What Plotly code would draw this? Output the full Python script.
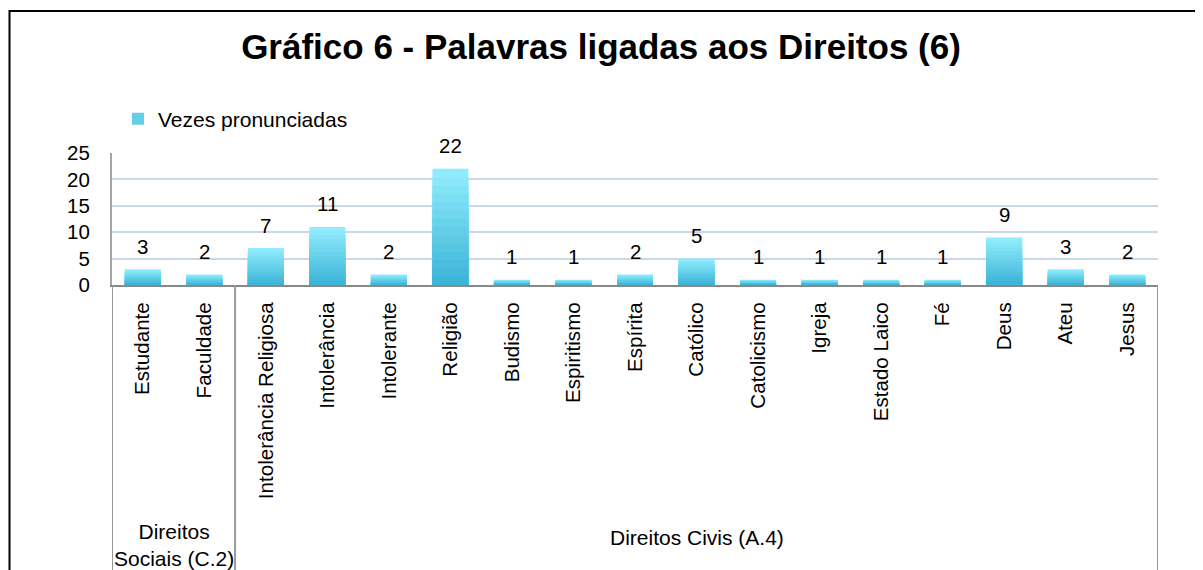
import plotly.graph_objects as go

categories = ["Estudante", "Faculdade", "Intolerância Religiosa", "Intolerância",
              "Intolerante", "Religião", "Budismo", "Espiritismo", "Espírita",
              "Católico", "Catolicismo", "Igreja", "Estado Laico", "Fé", "Deus",
              "Ateu", "Jesus"]
values = [3, 2, 7, 11, 2, 22, 1, 1, 2, 5, 1, 1, 1, 1, 9, 3, 2]
series_name = "Vezes pronunciadas"
groups = ["Direitos<br>Sociais (C.2)", "Direitos Civis (A.4)"]
group_spans = [(0, 1), (2, 16)]
title_text = "<b>Gráfico 6 - Palavras ligadas aos Direitos (6)</b>"

FONT = "Liberation Sans, Arial, sans-serif"
OFF = 8  # page body margin
W, H = 1203 - OFF, 570 - OFF
L, T = 112 - OFF, 153 - OFF
R = W - (1158 - OFF)
B = H - (285 - OFF)
PH = H - T - B
PW = W - L - R

top_c = (144, 236, 253)
bot_c = (61, 181, 216)
N = 14

fig = go.Figure()
for k in range(N):
    f = k / (N - 1)
    col = "rgb(%d,%d,%d)" % tuple(round(a + (b - a) * f) for a, b in zip(top_c, bot_c))
    frac = 1 - k / N
    fig.add_trace(go.Bar(
        x=categories, y=[v * frac for v in values],
        marker=dict(color=col, line=dict(width=0)),
        name=series_name, showlegend=(k == N // 2),
        hoverinfo="skip" if k else None,
    ))

for c, v in zip(categories, values):
    fig.add_annotation(x=c, y=v, text=str(v), showarrow=False, yshift=23,
                       font=dict(size=20.5, color="black", family=FONT))

# window pixel -> paper coords
def px_x(p):
    return (p - OFF - L) / PW

def px_y(p):
    return (H - B - (p - OFF)) / PH

# group labels
gy = [px_y(545), px_y(537)]
for (a, b), g, yy in zip(group_spans, groups, gy):
    fig.add_annotation(x=(a + b) / 2, y=yy, xref="x", yref="paper", text=g,
                       showarrow=False, font=dict(size=21, color="black", family=FONT),
                       align="center", yanchor="middle")

# category box separators
for xs in [-0.5, 1.5, len(categories) - 0.5]:
    fig.add_shape(type="line", xref="x", yref="paper", x0=xs, x1=xs, y0=0, y1=-2.5,
                  line=dict(color="#9a9a9a", width=2))

# outer border
fig.add_shape(type="rect", xref="paper", yref="paper",
              x0=px_x(OFF + 1.5), x1=px_x(1215), y0=px_y(11), y1=px_y(600),
              line=dict(color="black", width=2), fillcolor="rgba(0,0,0,0)", layer="below")

fig.update_layout(
    width=W, height=H,
    margin=dict(l=L, r=R, t=T, b=B, autoexpand=False),
    paper_bgcolor="white", plot_bgcolor="white",
    barmode="overlay", bargap=0.415,
    font=dict(family=FONT, size=20, color="black"),
    title=dict(text=title_text, x=(601 - OFF) / W, xref="container", xanchor="center",
               y=1 - (47 - OFF) / H, yref="container", yanchor="middle",
               font=dict(size=35, family=FONT, color="black")),
    legend=dict(x=px_x(118), y=px_y(119), xanchor="left", yanchor="middle",
                font=dict(size=21, family=FONT), bgcolor="rgba(0,0,0,0)"),
    xaxis=dict(type="category", range=[-0.5, len(categories) - 0.5], tickangle=-90,
               showline=True, linecolor="#888888", linewidth=2, ticks="",
               showgrid=False, tickfont=dict(size=20.6, family=FONT, color="black"),
               ticklabelstandoff=7, fixedrange=True),
    yaxis=dict(range=[0, 25], dtick=5, tick0=0, showline=True, linecolor="#a6a6a6",
               linewidth=2, ticks="", gridcolor="#cbd7e9", gridwidth=2,
               zeroline=False, tickfont=dict(size=20.5, family=FONT, color="black"),
               ticklabelstandoff=16, fixedrange=True),
)

fig.write_html("out.html")
